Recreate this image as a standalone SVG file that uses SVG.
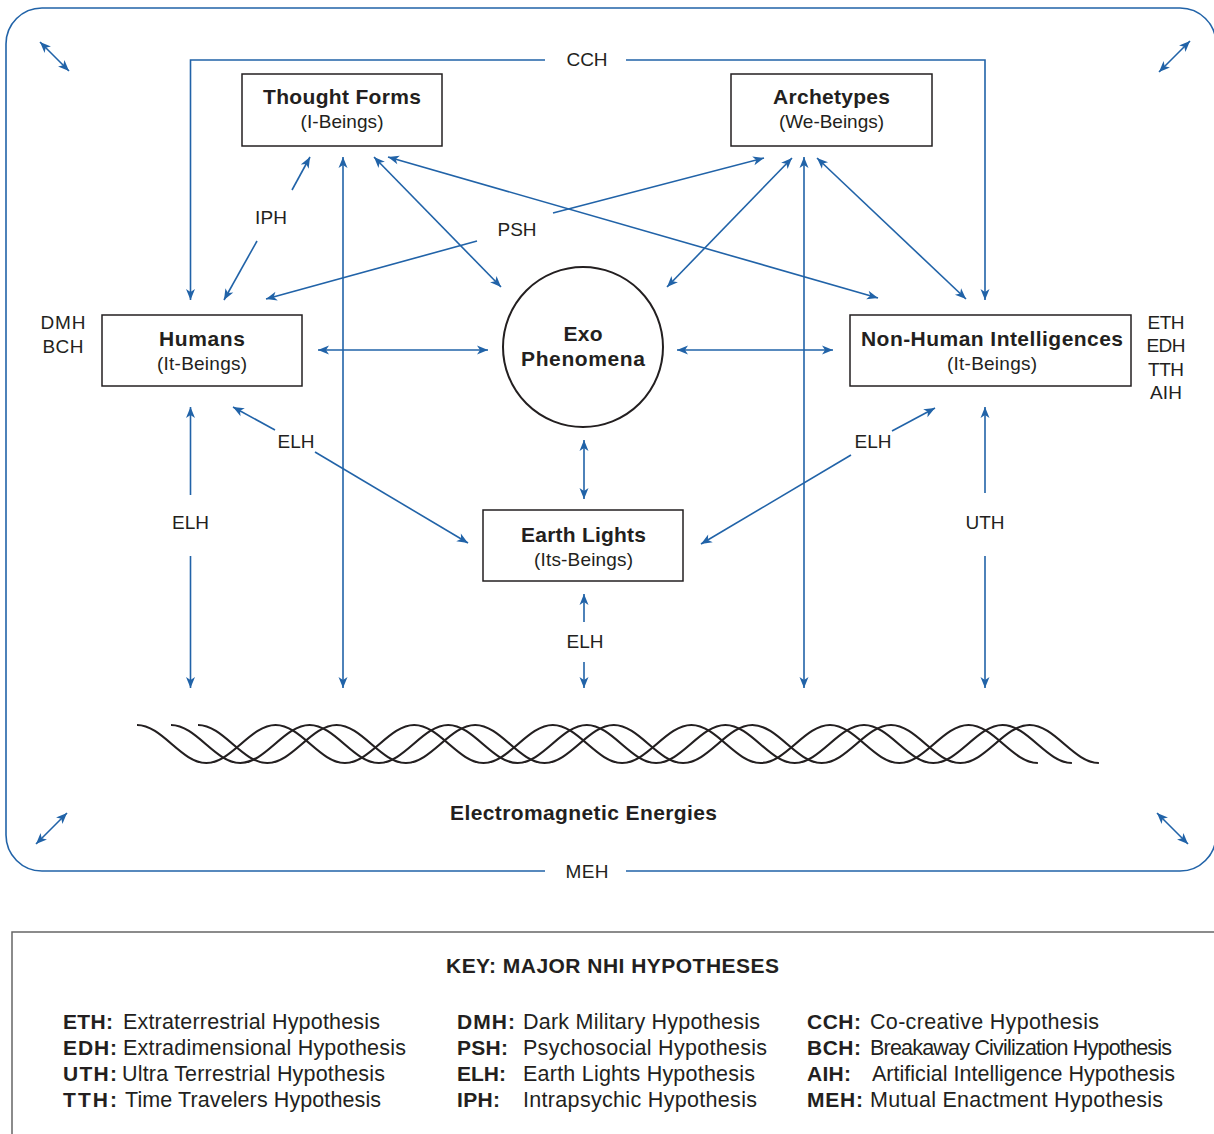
<svg xmlns="http://www.w3.org/2000/svg" width="1214" height="1134" viewBox="0 0 1214 1134">
<style>
text{font-family:"Liberation Sans",Arial,Helvetica,sans-serif;fill:#231f20}
.t{font-weight:bold;font-size:21px;text-anchor:middle}
.s{font-size:19px;text-anchor:middle}
.l{font-size:19px;text-anchor:middle}
.k{font-size:21.5px}
.kb{font-size:21px;font-weight:bold}
.box{fill:#fff;stroke:#231f20;stroke-width:1.5}
.c{fill:none;stroke:#2163a8;stroke-width:1.6}
.a{marker-end:url(#ah)}
.d{marker-start:url(#ah);marker-end:url(#ah)}
.w{fill:none;stroke:#231f20;stroke-width:2.2}
</style>
<defs>
<marker id="ah" viewBox="-12 -6 14 12" refX="0" refY="0" markerWidth="14" markerHeight="12" markerUnits="userSpaceOnUse" orient="auto-start-reverse">
<path d="M-11,-4.5 L0,0 L-11,4.5 L-8,0 Z" fill="#2163a8"/>
</marker>
<path id="wave" d="M137,725 C162.2,725 181.1,763 206.3,763 S250.4,725 275.6,725 S319.7,763 344.9,763 S389,725 414.2,725 S458.3,763 483.5,763 S527.6,725 552.8,725 S596.9,763 622.1,763 S666.2,725 691.4,725 S735.5,763 760.7,763 S804.8,725 830,725 S874.1,763 899.3,763 S943.4,725 968.6,725 S1012.7,763 1037.9,763"/>
</defs>
<rect width="1214" height="1134" fill="#fff"/>

<g id="frame">
<path class="c" d="M545,871 H42 A36,36 0 0 1 6,835 V44 A36,36 0 0 1 42,8 H1180 A36,36 0 0 1 1216,44 V835 A36,36 0 0 1 1180,871 H626"/>
<text class="l" x="587" y="878" textLength="43">MEH</text>
</g>

<g id="connectors">
<path class="c a" d="M545,60 H190.5 V300"/>
<path class="c a" d="M626,60 H985 V300"/>
<text class="l" x="587" y="66" textLength="41">CCH</text>
<line class="c d" x1="40" y1="42" x2="69" y2="71"/>
<line class="c d" x1="1190" y1="41" x2="1159" y2="72"/>
<line class="c d" x1="36" y1="844" x2="67" y2="813"/>
<line class="c d" x1="1157" y1="813" x2="1188" y2="844"/>
<line class="c a" x1="292" y1="190" x2="310" y2="157"/>
<line class="c a" x1="257" y1="241" x2="224" y2="300"/>
<text class="l" x="271" y="224" textLength="32">IPH</text>
<line class="c a" x1="477" y1="241" x2="266" y2="299"/>
<line class="c a" x1="553" y1="213" x2="764" y2="158"/>
<text class="l" x="517" y="236" textLength="39">PSH</text>
<line class="c d" x1="374" y1="157" x2="501" y2="287"/>
<line class="c d" x1="388" y1="157" x2="878" y2="298"/>
<line class="c d" x1="792" y1="158" x2="667" y2="287"/>
<line class="c d" x1="817" y1="158" x2="966" y2="299"/>
<line class="c d" x1="343" y1="157" x2="343" y2="688"/>
<line class="c d" x1="804" y1="157" x2="804" y2="688"/>
<line class="c d" x1="318" y1="350" x2="488" y2="350"/>
<line class="c d" x1="677" y1="350" x2="833" y2="350"/>
<line class="c d" x1="584" y1="440" x2="584" y2="499"/>
<line class="c a" x1="275" y1="430" x2="233" y2="407"/>
<line class="c a" x1="315" y1="452" x2="468" y2="543"/>
<text class="l" x="296" y="448" textLength="37">ELH</text>
<line class="c a" x1="892" y1="431" x2="935" y2="408"/>
<line class="c a" x1="851" y1="455" x2="701" y2="544"/>
<text class="l" x="873" y="448" textLength="37">ELH</text>
<line class="c a" x1="190.5" y1="495" x2="190.5" y2="407"/>
<line class="c a" x1="190.5" y1="556" x2="190.5" y2="688"/>
<text class="l" x="190.5" y="529" textLength="37">ELH</text>
<line class="c a" x1="985" y1="493" x2="985" y2="407"/>
<line class="c a" x1="985" y1="556" x2="985" y2="688"/>
<text class="l" x="985" y="529" textLength="39">UTH</text>
<line class="c a" x1="584" y1="622" x2="584" y2="594"/>
<line class="c a" x1="584" y1="662" x2="584" y2="688"/>
<text class="l" x="585" y="648" textLength="37">ELH</text>
</g>

<g id="thought-forms">
<rect class="box" x="242" y="74" width="200" height="72"/>
<text class="t" x="342" y="104" textLength="158">Thought Forms</text>
<text class="s" x="342" y="128" textLength="83">(I-Beings)</text>
</g>
<g id="archetypes">
<rect class="box" x="731" y="74" width="201" height="72"/>
<text class="t" x="831.5" y="104" textLength="117">Archetypes</text>
<text class="s" x="831.5" y="128" textLength="105">(We-Beings)</text>
</g>
<g id="humans">
<rect class="box" x="102" y="315" width="200" height="71"/>
<text class="t" x="202" y="346" textLength="86">Humans</text>
<text class="s" x="202" y="370" textLength="90">(It-Beings)</text>
</g>
<g id="nhi">
<rect class="box" x="850" y="315" width="281" height="71"/>
<text class="t" x="992" y="346" textLength="262">Non-Human Intelligences</text>
<text class="s" x="992" y="370" textLength="90">(It-Beings)</text>
</g>
<g id="exo">
<circle cx="583" cy="347" r="80" fill="#fff" stroke="#231f20" stroke-width="2"/>
<text class="t" x="583" y="341" textLength="39">Exo</text>
<text class="t" x="583" y="366" textLength="124">Phenomena</text>
</g>
<g id="earth-lights">
<rect class="box" x="483" y="510" width="200" height="71"/>
<text class="t" x="583.5" y="542" textLength="125">Earth Lights</text>
<text class="s" x="583.5" y="566" textLength="99">(Its-Beings)</text>
</g>

<g id="side-labels">
<text class="l" x="63" y="329" textLength="45">DMH</text>
<text class="l" x="63" y="353" textLength="41">BCH</text>
<text class="l" x="1166" y="329" textLength="37">ETH</text>
<text class="l" x="1166" y="352" textLength="39">EDH</text>
<text class="l" x="1166" y="376" textLength="36">TTH</text>
<text class="l" x="1166" y="399" textLength="32">AIH</text>
</g>

<g id="waves">
<use href="#wave" class="w"/>
<use href="#wave" class="w" transform="translate(34,0)"/>
<use href="#wave" class="w" transform="translate(61,0)"/>
<text class="t" x="583.5" y="820" textLength="267">Electromagnetic Energies</text>
</g>

<g id="key">
<rect x="12" y="932" width="1230" height="240" fill="none" stroke="#666" stroke-width="1.5"/>
<text class="kb" x="446" y="973" textLength="333">KEY: MAJOR NHI HYPOTHESES</text>
<text class="kb" x="63" y="1029" textLength="50">ETH:</text>
<text class="k" x="123" y="1029" textLength="257">Extraterrestrial Hypothesis</text>
<text class="kb" x="63" y="1055" textLength="54">EDH:</text>
<text class="k" x="123" y="1055" textLength="283">Extradimensional Hypothesis</text>
<text class="kb" x="63" y="1081" textLength="54">UTH:</text>
<text class="k" x="122" y="1081" textLength="263">Ultra Terrestrial Hypothesis</text>
<text class="kb" x="63" y="1107" textLength="54">TTH:</text>
<text class="k" x="125" y="1107" textLength="256">Time Travelers Hypothesis</text>
<text class="kb" x="457" y="1029" textLength="58">DMH:</text>
<text class="k" x="523" y="1029" textLength="237">Dark Military Hypothesis</text>
<text class="kb" x="457" y="1055" textLength="51">PSH:</text>
<text class="k" x="523" y="1055" textLength="244">Psychosocial Hypothesis</text>
<text class="kb" x="457" y="1081" textLength="49">ELH:</text>
<text class="k" x="523" y="1081" textLength="232">Earth Lights Hypothesis</text>
<text class="kb" x="457" y="1107" textLength="43">IPH:</text>
<text class="k" x="523" y="1107" textLength="234">Intrapsychic Hypothesis</text>
<text class="kb" x="807" y="1029" textLength="54">CCH:</text>
<text class="k" x="870" y="1029" textLength="229">Co-creative Hypothesis</text>
<text class="kb" x="807" y="1055" textLength="54">BCH:</text>
<text class="k" x="870" y="1055" textLength="302">Breakaway Civilization Hypothesis</text>
<text class="kb" x="807" y="1081" textLength="44">AIH:</text>
<text class="k" x="872" y="1081" textLength="303">Artificial Intelligence Hypothesis</text>
<text class="kb" x="807" y="1107" textLength="56">MEH:</text>
<text class="k" x="870" y="1107" textLength="293">Mutual Enactment Hypothesis</text>
</g>
</svg>
